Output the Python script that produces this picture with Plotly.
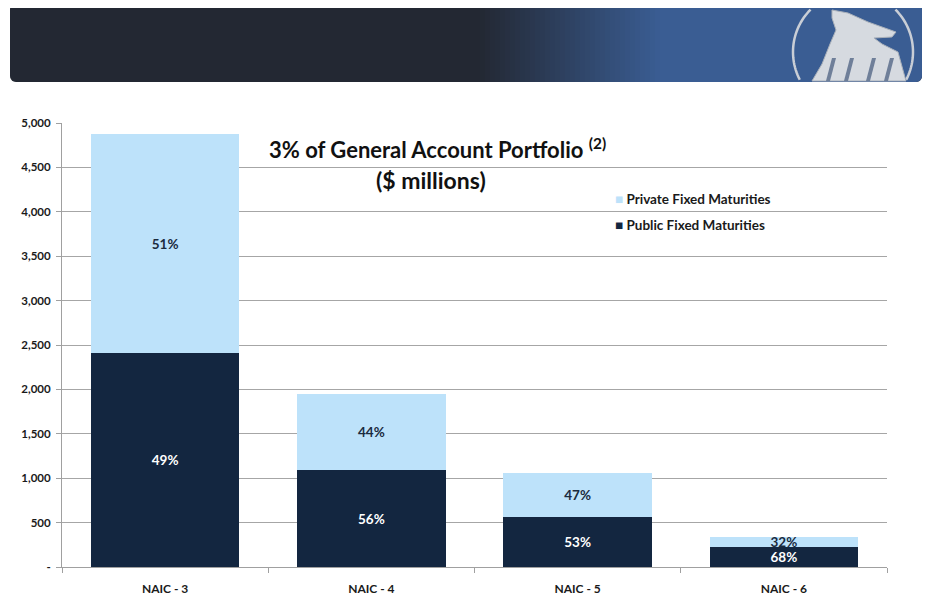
import math
import plotly.graph_objects as go

categories = ["NAIC - 3", "NAIC - 4", "NAIC - 5", "NAIC - 6"]
public_vals = [2410, 1090, 565, 230]
private_vals = [2465, 860, 495, 110]
public_pct = ["49%", "56%", "53%", "68%"]
private_pct = ["51%", "44%", "47%", "32%"]
y_ticks = [0, 500, 1000, 1500, 2000, 2500, 3000, 3500, 4000, 4500, 5000]
y_tick_labels = ["-"] + [f"{v:,}" for v in y_ticks[1:]]
series_names = ["Private Fixed Maturities", "Public Fixed Maturities"]

# the page body has an 8px margin, so the figure is drawn a bit smaller
OFF = 8
W, H = 931 - OFF, 602 - OFF
L, R, T, B = 62, 887, 123, 567   # plot box in screen pixels
FONT = "Lato"
DARK = "#132640"
LIGHT = "#bde2fa"


def px(x):
    return (x - L) / (R - L)


def py(y):
    return (B - y) / (B - T)


def path(points, close=True):
    s = "M " + " L ".join(f"{px(x):.5f},{py(y):.5f}" for x, y in points)
    return s + (" Z" if close else "")


def rounded(x0, y0, x1, y1, r, left=True, right=True):
    pts = []
    steps = 6
    if left:
        for i in range(steps + 1):
            a = math.pi + (math.pi / 2) * i / steps
            pts.append((x0 + r + r * math.cos(a), y0 + r + r * math.sin(a)))
    else:
        pts.append((x0, y0))
    if right:
        for i in range(steps + 1):
            a = 1.5 * math.pi + (math.pi / 2) * i / steps
            pts.append((x1 - r + r * math.cos(a), y0 + r + r * math.sin(a)))
        for i in range(steps + 1):
            a = (math.pi / 2) * i / steps
            pts.append((x1 - r + r * math.cos(a), y1 - r + r * math.sin(a)))
    else:
        pts.append((x1, y0))
        pts.append((x1, y1))
    if left:
        for i in range(steps + 1):
            a = math.pi / 2 + (math.pi / 2) * i / steps
            pts.append((x0 + r + r * math.cos(a), y1 - r + r * math.sin(a)))
    else:
        pts.append((x0, y1))
    return path(pts)


def mix(c1, c2, t):
    a = [int(c1[i:i + 2], 16) for i in (1, 3, 5)]
    b = [int(c2[i:i + 2], 16) for i in (1, 3, 5)]
    return "#" + "".join(f"{round(a[k] + (b[k] - a[k]) * t):02x}" for k in range(3))


fig = go.Figure()

fig.add_trace(go.Bar(
    x=categories, y=public_vals, name=series_names[1],
    marker=dict(color=DARK, line=dict(width=0)),
    text=public_pct, textposition="inside", insidetextanchor="middle",
    constraintext="none",
    textfont=dict(family=FONT, size=13.5, color="white", weight="bold"),
    hoverinfo="skip",
))
fig.add_trace(go.Bar(
    x=categories, y=private_vals, name=series_names[0],
    marker=dict(color=LIGHT, line=dict(width=0)),
    text=private_pct, textposition="inside", insidetextanchor="middle",
    constraintext="none",
    textfont=dict(family=FONT, size=13.5, color="#1a2a3e", weight="bold"),
    hoverinfo="skip",
))

shapes = []
# header banner, dark on the left fading to blue on the right
shapes.append(dict(type="path", xref="paper", yref="paper",
                   path=rounded(10, 3, 922, 82, 6), fillcolor="#232833",
                   line=dict(width=0), layer="above"))
g0, g1 = 480, 660
n = 36
for i in range(n):
    xa = g0 + (g1 - g0) * i / n
    xb = g0 + (g1 - g0) * (i + 1) / n + 1
    shapes.append(dict(type="rect", xref="paper", yref="paper",
                       x0=px(xa), x1=px(xb), y0=py(82), y1=py(3),
                       fillcolor=mix("#232833", "#3a5d93", (i + 0.5) / n),
                       line=dict(width=0), layer="above"))
shapes.append(dict(type="path", xref="paper", yref="paper",
                   path=rounded(g1, 3, 922, 82, 6, left=False),
                   fillcolor="#3a5d93", line=dict(width=0), layer="above"))

# logo: ring clipped to the banner, plus a rough silver rock
cx, cy, rr = 853, 52, 60
seg = []
for i in range(121):
    a = math.radians(-60 + 300 * i / 120)
    x = cx + rr * math.cos(a)
    y = cy - rr * math.sin(a)
    if 9 <= y <= 81 and x <= 919:
        seg.append((x, y))
        continue
    if len(seg) > 1:
        shapes.append(dict(type="path", xref="paper", yref="paper",
                           path=path(seg, close=False),
                           line=dict(color="#c9ced6", width=2.5), layer="above"))
    seg = []
if len(seg) > 1:
    shapes.append(dict(type="path", xref="paper", yref="paper",
                       path=path(seg, close=False),
                       line=dict(color="#c9ced6", width=2.5), layer="above"))
rock = [(832, 10), (848, 13), (868, 22), (896, 32), (892, 37), (874, 38),
        (882, 44), (898, 52), (906, 81), (812, 81), (822, 64), (830, 44),
        (836, 30), (832, 18)]
shapes.append(dict(type="path", xref="paper", yref="paper", path=path(rock),
                   fillcolor="#d6dae0", line=dict(color="#a9b0ba", width=1),
                   layer="above"))
# dark folds at the foot of the rock
for fx in (832, 850, 872, 890):
    shapes.append(dict(type="path", xref="paper", yref="paper",
                       path=path([(fx, 58), (fx + 4, 58), (fx - 2, 81), (fx - 6, 81)]),
                       fillcolor="#6f7f99", line=dict(width=0), layer="above"))

annotations = [
    dict(text="3% of General Account Portfolio <sup>(2)</sup>", xref="paper", yref="paper",
         x=px(437), y=py(148), showarrow=False, xanchor="center", yanchor="middle",
         font=dict(family=FONT, size=22, color="#111111", weight="bold")),
    dict(text="($ millions)", xref="paper", yref="paper",
         x=px(431), y=py(180), showarrow=False, xanchor="center", yanchor="middle",
         font=dict(family=FONT, size=23, color="#111111", weight="bold")),
]
# legend drawn as text lines with a small square glyph
for name, col, ly in [(series_names[0], LIGHT, 199), (series_names[1], DARK, 225)]:
    annotations.append(dict(
        text=f"<span style='color:{col}'>■</span> {name}",
        xref="paper", yref="paper", x=px(613), y=py(ly),
        showarrow=False, xanchor="left", yanchor="middle",
        font=dict(family=FONT, size=13.5, color="#1a1a1a", weight="bold"),
    ))

fig.update_layout(
    width=W, height=H,
    margin=dict(l=L - OFF, r=W - (R - OFF), t=T - OFF, b=H - (B - OFF)),
    paper_bgcolor="white", plot_bgcolor="white",
    barmode="stack", bargap=0.28,
    font=dict(family=FONT, size=12, color="#1a1a1a"),
    showlegend=False,
    shapes=shapes,
    annotations=annotations,
)
fig.update_xaxes(
    automargin=False,
    showline=True, linecolor="#a0a0a0", linewidth=1,
    ticks="outside", tickson="boundaries", ticklen=5, tickcolor="#a0a0a0",
    ticklabelstandoff=11,
    showgrid=False,
    tickfont=dict(family=FONT, size=12, color="#1a1a1a", weight="bold"),
)
fig.update_yaxes(
    automargin=False,
    range=[0, 5000], tickvals=y_ticks, ticktext=y_tick_labels,
    showline=True, linecolor="#a0a0a0", linewidth=1,
    ticks="outside", ticklen=5, tickcolor="#a0a0a0",
    ticklabelstandoff=3,
    showgrid=True, gridcolor="#a6a6a6", gridwidth=1, zeroline=False,
    tickfont=dict(family=FONT, size=11.5, color="#1a1a1a", weight="bold"),
)

fig.write_html("out.html")
